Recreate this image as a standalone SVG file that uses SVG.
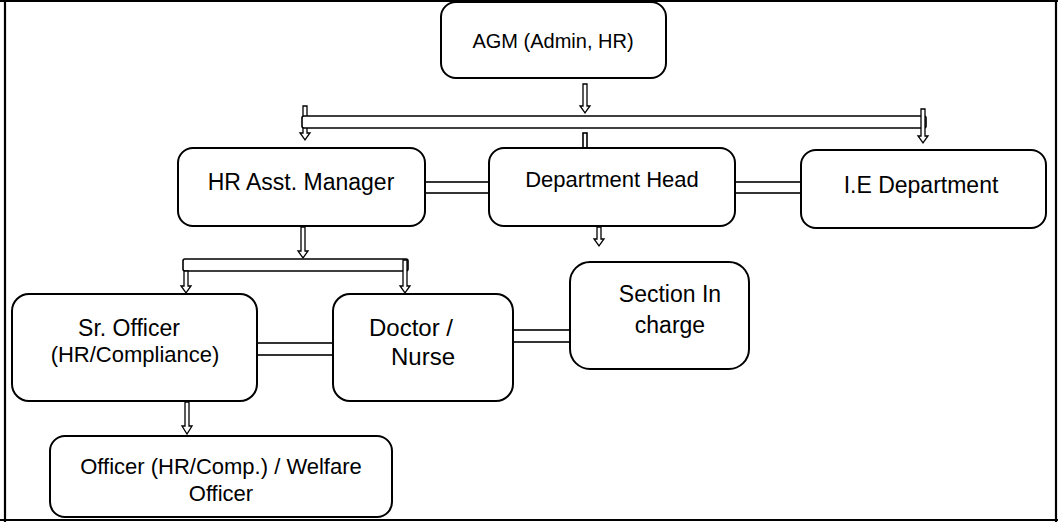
<svg xmlns="http://www.w3.org/2000/svg" width="1058" height="522" viewBox="0 0 1058 522">
  <style>
    .box { fill: #ffffff; stroke: #000000; stroke-width: 2; }
    .bar { fill: #ffffff; stroke: #000000; stroke-width: 1.6; }
    .arr { fill: #ffffff; stroke: #000000; stroke-width: 1.3; stroke-linejoin: miter; }
    .frame { stroke: #000000; stroke-width: 2.2; fill: none; }
    text { font-family: "Liberation Sans", Arial, sans-serif; fill: #000000; text-anchor: middle; }
    .xl { font-size: 24px; }
    .lg { font-size: 23px; }
    .md { font-size: 22px; }
    .sm { font-size: 20px; }
  </style>

  <rect x="0" y="0" width="1058" height="522" fill="#ffffff"/>

  <!-- page frame -->
  <g id="frame">
    <line class="frame" x1="0" y1="1" x2="1058" y2="1"/>
    <line class="frame" x1="5" y1="0" x2="5" y2="522"/>
    <line class="frame" x1="1056" y1="0" x2="1056" y2="522"/>
    <line class="frame" x1="0" y1="520" x2="1058" y2="520"/>
  </g>

  <!-- connectors: hollow arrows and hollow bars -->
  <g id="connectors">
    <!-- AGM down to the distribution bar -->
    <polygon class="arr" points="583,84 587,84 587,106 590,106 585,113 580,106 583,106"/>
    <!-- left drop to HR Asst. Manager -->
    <polygon class="arr" points="303,106 307,106 307,133 310,133 305,140 300,133 303,133"/>
    <!-- main distribution bar -->
    <rect class="bar" x="302" y="116" width="624" height="12" rx="2"/>
    <!-- right drop to I.E Department -->
    <polygon class="arr" points="921,109 925,109 925,136 928,136 923,143 918,136 921,136"/>
    <!-- middle stub to Department Head -->
    <rect class="bar" x="583" y="133" width="4" height="16"/>

    <!-- side links in the second row -->
    <rect class="bar" x="425" y="182" width="64" height="11"/>
    <rect class="bar" x="735" y="182" width="66" height="11"/>

    <!-- HR Asst. Manager down -->
    <polygon class="arr" points="301,227 305,227 305,251 308,251 303,258 298,251 301,251"/>
    <!-- Department Head down -->
    <polygon class="arr" points="597,227 601,227 601,239 604,239 599,246 594,239 597,239"/>

    <!-- second distribution bar -->
    <rect class="bar" x="183" y="259" width="225" height="12" rx="2"/>
    <polygon class="arr" points="184,271 188,271 188,286 191,286 186,293 181,286 184,286"/>
    <polygon class="arr" points="403,260 407,260 407,286 410,286 405,293 400,286 403,286"/>

    <!-- side links in the third row -->
    <rect class="bar" x="257" y="343" width="76" height="12"/>
    <rect class="bar" x="513" y="330" width="57" height="12"/>

    <!-- Sr. Officer down -->
    <polygon class="arr" points="185,402 189,402 189,426 192,426 187,434 182,426 185,426"/>
  </g>

  <g id="agm">
    <rect class="box" x="441" y="2" width="225" height="76" rx="15"/>
    <text class="sm" x="553" y="48">AGM (Admin, HR)</text>
  </g>

  <g id="hr-asst-manager">
    <rect class="box" x="178" y="148" width="247" height="78" rx="15"/>
    <text class="lg" x="301" y="190">HR Asst. Manager</text>
  </g>

  <g id="department-head">
    <rect class="box" x="489" y="148" width="246" height="78" rx="15"/>
    <text class="md" x="612" y="187">Department Head</text>
  </g>

  <g id="ie-department">
    <rect class="box" x="801" y="150" width="245" height="78" rx="15"/>
    <text class="lg" x="921" y="193">I.E Department</text>
  </g>

  <g id="sr-officer">
    <rect class="box" x="12" y="294" width="245" height="107" rx="17"/>
    <text class="lg" x="129" y="336">Sr. Officer</text>
    <text class="md" x="135" y="362">(HR/Compliance)</text>
  </g>

  <g id="doctor-nurse">
    <rect class="box" x="333" y="294" width="180" height="107" rx="17"/>
    <text class="xl" x="411" y="336">Doctor /</text>
    <text class="xl" x="423" y="365">Nurse</text>
  </g>

  <g id="section-in-charge">
    <rect class="box" x="570" y="262" width="179" height="107" rx="20"/>
    <text class="lg" x="670" y="302">Section In</text>
    <text class="lg" x="670" y="333">charge</text>
  </g>

  <g id="officer-welfare">
    <rect class="box" x="50" y="436" width="342" height="81" rx="15"/>
    <text class="md" x="221" y="474">Officer (HR/Comp.) / Welfare</text>
    <text class="md" x="221" y="501">Officer</text>
  </g>
</svg>
